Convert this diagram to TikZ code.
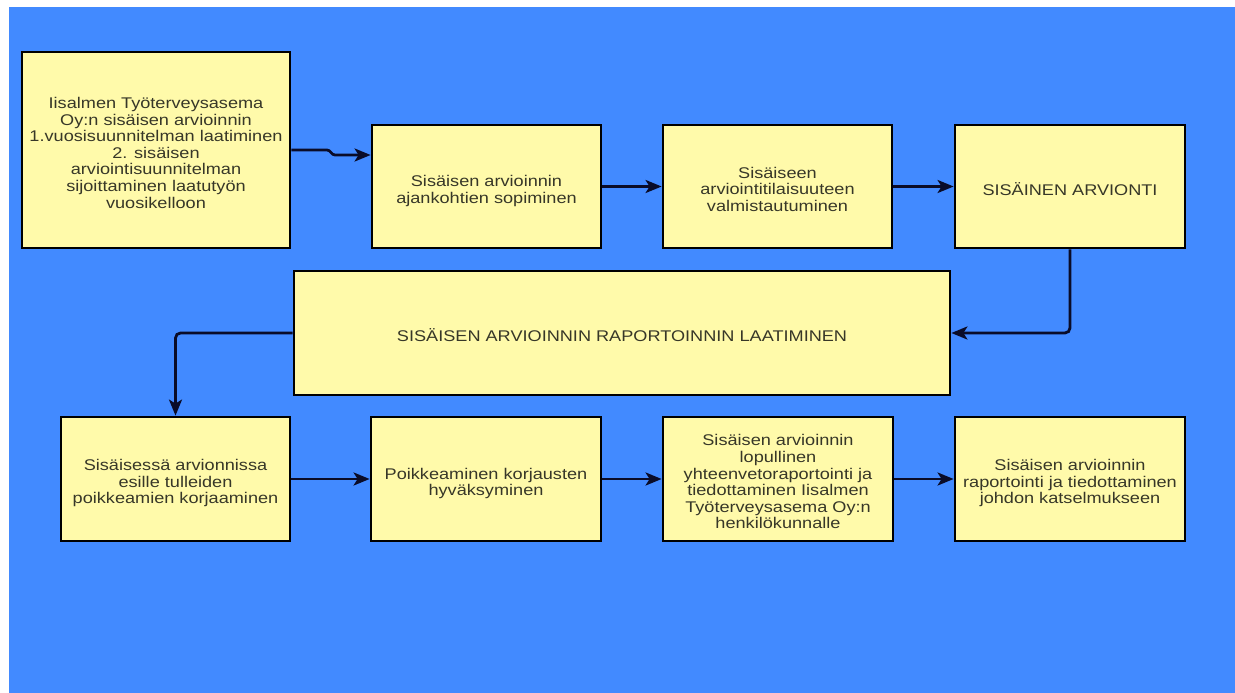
\documentclass[tikz,border=0pt]{standalone}
\usepackage{fontspec}
\setmainfont{Liberation Sans}[FakeStretch=1.17]
\usetikzlibrary{arrows.meta}
\definecolor{bg}{RGB}{66,138,255}
\definecolor{boxfill}{RGB}{255,250,170}
\definecolor{txt}{RGB}{55,55,40}
\definecolor{linec}{RGB}{10,12,40}
\newcommand\boxtxt[1]{\raisebox{-5pt}[\height][\depth]{\begin{tabular}{@{}c@{}}#1\end{tabular}}}
\tikzset{
  stepbox/.style={draw=black, line width=2.8pt, fill=boxfill, inner sep=0pt,
    text=txt, font=\fontsize{15.5}{16.6}\selectfont},
  arr/.style={draw=linec, line width=2.8pt, rounded corners=5pt,
    -{Stealth[length=16pt,width=13pt,inset=4pt]}}
}
\begin{document}
\begin{tikzpicture}[x=1pt,y=-1pt]
\useasboundingbox (0,0) rectangle (1235,693);
\fill[white] (0,0) rectangle (1235,693);
\fill[bg] (9,7) rectangle (1235,693);

\node[stepbox, minimum width=268, minimum height=196] (b1) at (156,150)
  {\boxtxt{Iisalmen Työterveysasema\\Oy:n sisäisen arvioinnin\\1.vuosisuunnitelman laatiminen\\2. sisäisen\\arviointisuunnitelman\\sijoittaminen laatutyön\\vuosikelloon}};
\node[stepbox, minimum width=229, minimum height=123] (b2) at (486.5,186.5)
  {\boxtxt{Sisäisen arvioinnin\\ajankohtien sopiminen}};
\node[stepbox, minimum width=229, minimum height=123] (b3) at (777.5,186.5)
  {\boxtxt{Sisäiseen\\arviointitilaisuuteen\\valmistautuminen}};
\node[stepbox, minimum width=230, minimum height=123] (b4) at (1070,186.5)
  {\boxtxt{SISÄINEN ARVIONTI}};
\node[stepbox, minimum width=656, minimum height=124] (b5) at (622,333)
  {\boxtxt{SISÄISEN ARVIOINNIN RAPORTOINNIN LAATIMINEN}};
\node[stepbox, minimum width=229, minimum height=124] (b6) at (175.5,479)
  {\boxtxt{Sisäisessä arvionnissa\\esille tulleiden\\poikkeamien korjaaminen}};
\node[stepbox, minimum width=230, minimum height=124] (b7) at (486,479)
  {\boxtxt{Poikkeaminen korjausten\\hyväksyminen}};
\node[stepbox, minimum width=230, minimum height=124] (b8) at (778,479)
  {\boxtxt{Sisäisen arvioinnin\\lopullinen\\yhteenvetoraportointi ja\\tiedottaminen Iisalmen\\Työterveysasema Oy:n\\henkilökunnalle}};
\node[stepbox, minimum width=230, minimum height=124] (b9) at (1070,479)
  {\boxtxt{Sisäisen arvioinnin\\raportointi ja tiedottaminen\\johdon katselmukseen}};

\draw[arr, rounded corners=0pt] (b1.east) -- (327,150) to[out=0,in=180] (335,155) -- (b2.west |- 0,155);
\draw[arr] (b2.east) -- (b3.west);
\draw[arr] (b3.east) -- (b4.west);
\draw[arr] (b4.south) |- (b5.east);
\draw[arr] (b5.west) -| (b6.north);
\draw[arr] (b6.east) -- (b7.west);
\draw[arr] (b7.east) -- (b8.west);
\draw[arr] (b8.east) -- (b9.west);
\end{tikzpicture}
\end{document}
